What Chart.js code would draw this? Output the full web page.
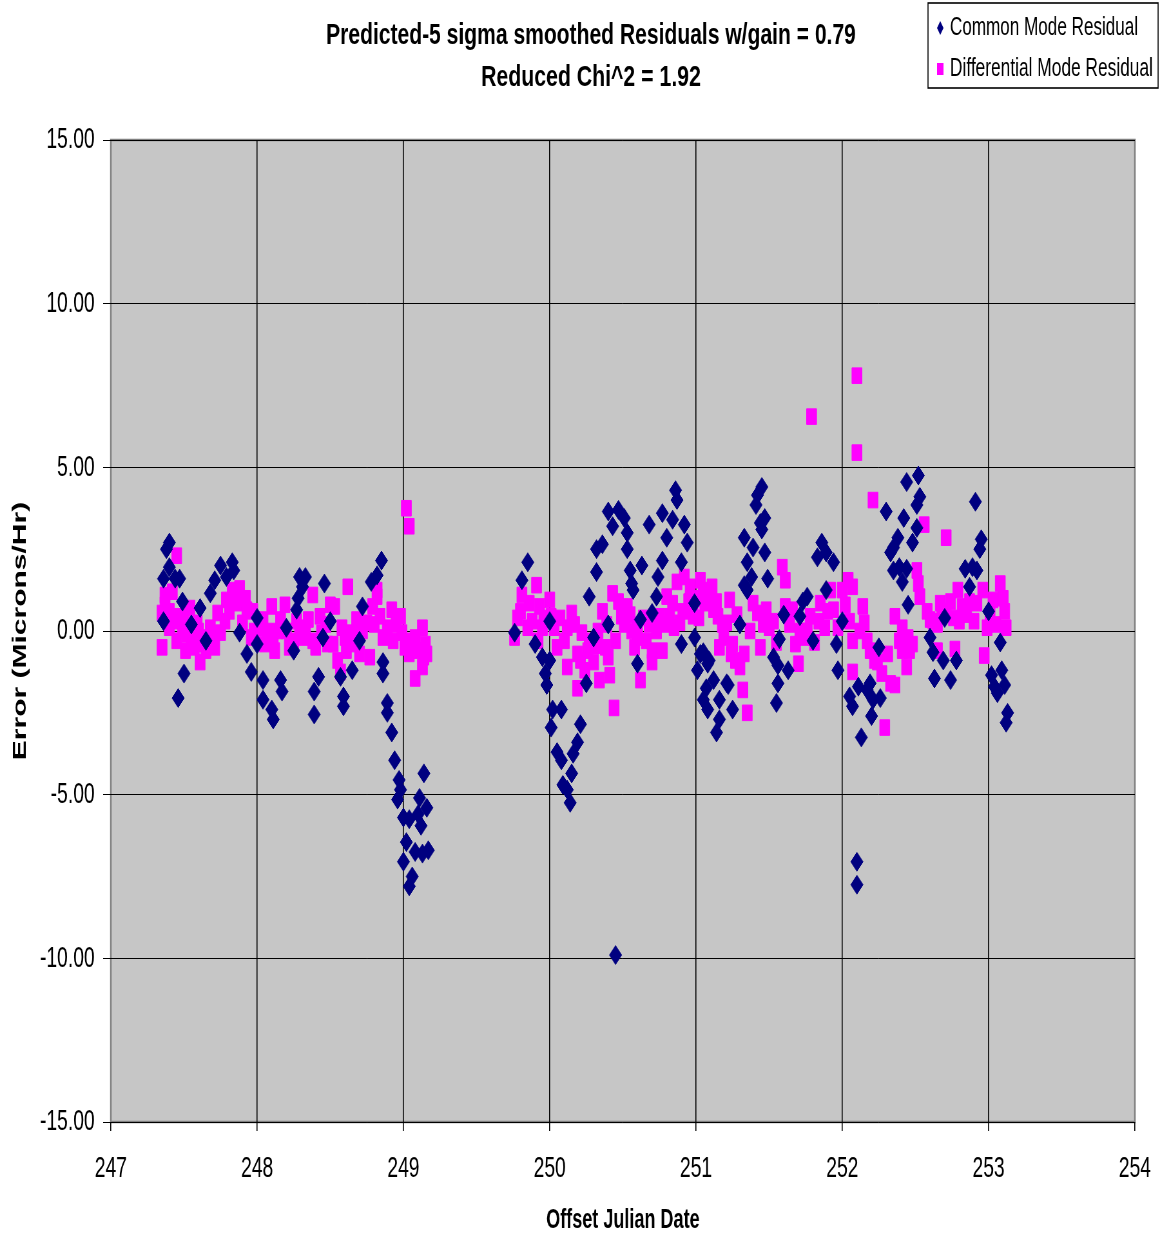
<!DOCTYPE html>
<html>
<head>
<meta charset="utf-8">
<script src="https://cdn.jsdelivr.net/npm/chart.js@4.4.0/dist/chart.umd.min.js"></script>
<style>
  html, body { margin: 0; padding: 0; background: #fff; }
  canvas { display: block; }
</style>
</head>
<body>
<!-- drawn wide and squeezed by css, like the original screenshot -->
<canvas id="residualChart" width="1800" height="1234" style="width:1160px;height:1234px"></canvas>
<script>
// Common mode residual (navy diamonds)
const cmDay = [
  247.40, 247.38, 247.40, 247.36, 247.47, 247.44, 247.49, 247.36, 247.50, 247.46,
  247.61, 247.68, 247.75, 247.83, 247.79, 247.71, 247.88, 247.93, 247.96, 248.04,
  248.04, 248.10, 248.11, 248.16, 248.17, 248.29, 248.33, 248.28, 248.31, 248.27,
  248.46, 248.42, 248.39, 248.39, 248.57, 248.59, 248.59, 248.65, 248.72, 248.78,
  248.82, 248.85, 248.86, 248.86, 248.89, 248.89, 248.92, 248.94, 248.97, 248.96,
  248.98, 249.00, 249.04, 249.10, 249.12, 249.02, 249.00, 249.08, 249.13, 249.17,
  249.06, 249.04, 249.14, 249.11, 249.16, 247.55, 247.65, 248.00, 248.20, 248.50,
  248.70, 247.84, 248.00, 248.25, 248.45, 249.85, 249.81, 249.76, 249.90, 249.95,
  250.00, 249.97, 249.98, 250.02, 250.08, 250.01, 250.21, 250.19, 250.05, 250.08,
  250.16, 250.15, 250.09, 250.12, 250.14, 250.25, 250.27, 250.32, 250.32, 250.36,
  250.40, 250.43, 250.47, 250.51, 250.53, 250.53, 250.55, 250.56, 250.57, 250.63,
  250.62, 250.60, 250.68, 250.74, 250.77, 250.80, 250.77, 250.84, 250.86, 250.87,
  250.92, 250.94, 250.90, 250.73, 250.70, 250.45, 250.99, 250.99, 251.05, 251.01,
  251.08, 251.07, 251.12, 251.05, 251.08, 251.16, 251.22, 251.25, 251.14, 251.16,
  251.33, 250.00, 250.30, 250.90, 250.40, 251.45, 251.42, 251.41, 251.47, 251.44,
  251.45, 251.39, 251.47, 251.35, 251.38, 251.49, 251.33, 251.35, 251.86, 251.83,
  251.89, 251.94, 251.76, 251.73, 251.89, 251.71, 251.57, 251.53, 251.56, 251.63,
  251.56, 251.55, 251.03, 251.09, 251.21, 251.96, 251.97, 252.05, 252.07, 252.13,
  252.17, 252.21, 252.20, 252.26, 252.11, 252.19, 252.10, 252.10, 252.52, 252.44,
  252.53, 252.51, 252.30, 252.42, 252.51, 252.48, 252.38, 252.35, 252.33, 252.35,
  252.39, 252.44, 252.41, 252.45, 252.91, 252.95, 252.94, 252.84, 252.89, 252.92,
  252.87, 252.60, 252.62, 252.69, 252.63, 252.74, 252.78, 253.02, 253.04, 253.09,
  253.11, 253.06, 253.13, 253.12, 253.08, 251.30, 251.60, 252.00, 252.70, 253.00,
  252.25, 251.80
];
const cmErr = [
  2.70, 2.50, 1.95, 1.60, 1.60, 1.60, 0.90, 0.30, -1.30, -2.05,
  0.70, 1.15, 2.00, 2.10, 1.65, 1.55, -0.05, -0.70, -1.25, -1.50,
  -2.10, -2.40, -2.70, -1.50, -1.85, 1.65, 1.65, 1.00, 1.35, 0.65,
  1.45, -1.40, -1.85, -2.55, -1.40, -2.00, -2.30, -1.20, 0.75, 1.50,
  1.70, 2.15, -0.95, -1.30, -2.20, -2.50, -3.10, -3.95, -4.55, -5.15,
  -4.85, -5.70, -5.75, -5.60, -5.95, -6.45, -7.05, -6.75, -6.80, -6.70,
  -7.50, -7.80, -4.35, -5.10, -5.40, 0.20, -0.30, 0.40, 0.10, 0.30,
  -0.30, 1.85, -0.40, -0.60, -0.20, 2.10, 1.55, -0.05, -0.40, -0.80,
  -0.90, -1.30, -1.65, -2.40, -2.40, -2.95, -2.85, -3.40, -3.70, -3.95,
  -3.75, -4.35, -4.70, -4.85, -5.25, -1.60, 1.05, 1.80, 2.50, 2.65,
  3.65, 3.20, 3.70, 3.45, 3.00, 2.50, 1.85, 1.45, 1.25, 2.00,
  0.35, -1.00, 3.25, 1.65, 2.15, 2.85, 3.60, 3.40, 4.30, 4.00,
  3.25, 2.70, 2.10, 1.05, 0.55, -9.90, 0.85, -0.20, -0.65, -1.20,
  -1.00, -1.75, -1.50, -2.10, -2.40, -2.10, -1.65, -2.40, -3.10, -2.70,
  2.85, 0.30, -0.20, -0.40, 0.20, 4.40, 4.15, 3.85, 3.45, 3.30,
  3.10, 2.55, 2.40, 2.10, 1.65, 1.60, 1.40, 1.25, 2.70, 2.25,
  2.40, 2.10, 1.05, 0.90, 1.25, 0.45, -0.25, -0.80, -1.05, -1.20,
  -1.60, -2.20, -0.70, -0.90, -1.60, -0.40, -1.20, -2.00, -2.30, -3.25,
  -1.80, -2.10, -2.60, -2.05, -1.70, -1.60, -7.05, -7.75, 4.75, 4.55,
  4.10, 3.85, 3.65, 3.45, 3.15, 2.70, 2.85, 2.55, 2.40, 1.85,
  1.95, 1.90, 1.50, 0.80, 3.95, 2.80, 2.50, 1.90, 1.95, 1.85,
  1.35, -0.20, -0.65, -0.90, -1.45, -1.50, -0.90, -1.35, -1.70, -1.20,
  -1.65, -1.90, -2.50, -2.80, -0.35, 0.20, 0.50, 0.30, 0.40, 0.60,
  -0.50, -0.30
];

// Differential mode residual (magenta squares)
const dmDay = [
  247.45, 247.42, 247.37, 247.35, 247.38, 247.40, 247.35, 247.47, 247.49, 247.51,
  247.54, 247.55, 247.61, 247.59, 247.63, 247.66, 247.71, 247.75, 247.73, 247.79,
  247.83, 247.88, 247.86, 247.93, 247.90, 247.97, 247.98, 247.96, 248.04, 248.10,
  248.07, 248.11, 248.12, 248.16, 248.19, 248.20, 248.22, 248.29, 248.31, 248.38,
  248.35, 248.38, 248.43, 248.44, 248.50, 248.53, 248.52, 248.55, 248.57, 248.60,
  248.62, 248.61, 248.65, 248.68, 248.70, 248.75, 248.77, 248.79, 248.82, 248.82,
  248.84, 248.89, 248.92, 248.93, 248.98, 248.99, 249.01, 249.04, 249.08, 249.08,
  249.13, 249.13, 249.15, 249.16, 249.14, 249.02, 249.04, 249.76, 249.78, 249.81,
  249.86, 249.85, 249.91, 249.93, 249.92, 249.95, 250.00, 250.01, 250.05, 250.07,
  250.12, 250.12, 250.15, 250.19, 250.19, 250.22, 250.24, 250.27, 250.30, 250.34,
  250.32, 250.36, 250.39, 250.40, 250.43, 250.41, 250.45, 250.47, 250.44, 250.49,
  250.53, 250.56, 250.58, 250.60, 250.62, 250.64, 250.66, 250.70, 250.70, 250.73,
  250.75, 250.77, 250.80, 250.82, 250.84, 250.87, 250.89, 250.92, 250.96, 250.98,
  251.03, 251.05, 251.06, 251.11, 251.12, 251.15, 251.16, 251.21, 251.23, 251.25,
  251.27, 251.30, 251.32, 251.35, 251.28, 251.39, 251.44, 251.42, 251.48, 251.50,
  251.55, 251.59, 251.61, 251.61, 251.66, 251.70, 251.71, 251.74, 251.78, 251.81,
  251.85, 251.88, 251.92, 251.94, 251.97, 252.00, 252.04, 252.07, 252.07, 252.10,
  252.10, 251.79, 252.21, 252.07, 252.14, 252.15, 252.19, 252.24, 252.27, 252.33,
  252.36, 252.29, 252.31, 252.36, 252.41, 252.41, 252.45, 252.44, 252.46, 252.56,
  252.51, 252.52, 252.53, 252.60, 252.67, 252.65, 252.71, 252.71, 252.76, 252.79,
  252.82, 252.87, 252.92, 252.96, 252.99, 253.03, 253.08, 253.11, 253.12, 252.65,
  252.77, 252.97, 247.37, 247.40, 247.43, 247.45, 247.50, 247.52, 247.57, 247.60,
  247.65, 247.68, 247.70, 247.78, 247.81, 247.92, 248.02, 248.05, 248.14, 248.25,
  248.27, 248.33, 248.40, 248.47, 248.48, 248.58, 248.64, 248.72, 248.80, 248.86,
  248.95, 249.06, 249.10, 249.80, 249.88, 249.96, 250.03, 250.10, 250.17, 250.21,
  250.26, 250.33, 250.38, 250.51, 250.55, 250.60, 250.68, 250.79, 250.85, 250.91,
  250.95, 251.00, 251.02, 251.08, 251.14, 251.18, 251.19, 251.24, 251.33, 251.37,
  251.46, 251.53, 251.64, 251.68, 251.76, 251.84, 251.90, 252.02, 252.05, 252.12,
  252.17, 252.22, 252.39, 252.48, 252.58, 252.62, 252.68, 252.74, 252.80, 252.85,
  252.90, 253.01, 253.05, 253.10
];
const dmErr = [
  2.30, 1.20, 1.10, 0.55, 0.35, 0.10, -0.50, 0.45, 0.00, -0.60,
  0.70, -0.20, -0.95, 0.25, -0.40, -0.20, -0.50, -0.05, 0.55, 0.95,
  1.25, 1.30, 0.85, 0.65, 0.25, 0.60, 0.00, -0.20, 0.35, 0.75,
  0.00, -0.20, -0.60, 0.35, 0.80, 0.00, -0.50, 0.10, -0.20, 1.10,
  0.35, -0.30, 0.45, -0.05, 0.80, 0.75, -0.40, -0.90, -1.25, -0.20,
  1.35, -0.60, -0.05, 0.35, -0.70, 0.25, -0.80, 0.75, 1.05, 1.25,
  0.45, 0.10, 0.65, -0.30, 0.45, -0.05, -0.50, -0.70, -1.45, -0.20,
  0.10, -1.10, -0.40, -0.70, -0.80, 3.75, 3.20, -0.20, 0.40, 1.10,
  0.85, 0.10, 1.40, 0.75, -0.30, 0.10, 0.95, 0.45, -0.50, 0.40,
  0.10, -1.10, 0.55, -0.70, -1.75, -0.05, -1.20, -0.30, -0.95, -1.50,
  -0.45, 0.60, 0.20, -0.80, 1.15, -1.35, -0.30, 0.90, -2.35, 0.45,
  0.75, 0.00, -0.50, 0.10, -1.50, 0.40, -0.30, -0.60, -0.95, 0.00,
  0.45, -0.60, 1.05, 0.45, 0.85, 1.50, 0.25, 1.65, 1.35, 0.45,
  1.55, 1.25, 0.85, 1.35, 0.65, 0.45, -0.50, 0.25, 0.95, -0.40,
  -0.90, -1.10, -1.80, -2.50, 0.50, 0.85, -0.50, 0.55, 0.65, 0.10,
  -0.35, 1.95, 1.55, 0.75, 0.65, -1.00, 0.00, -0.20, 0.45, -0.35,
  0.85, 0.10, 1.25, 0.65, 0.10, 1.25, 1.55, 1.35, -0.30, 7.80,
  5.45, 6.55, 4.00, -1.25, 0.75, 0.25, -0.60, -0.95, -1.30, -1.60,
  -1.65, -2.95, -0.70, 0.45, 0.10, -0.60, -0.20, -1.10, -0.60, 3.25,
  1.85, 1.45, 1.05, 0.35, 0.85, 0.20, 2.85, 0.60, 0.40, 1.25,
  0.75, 0.90, 0.85, 1.25, 0.10, 0.95, 1.45, 0.60, 0.10, -0.60,
  -0.55, -0.75, 0.80, 0.60, 0.30, -0.30, 0.30, -0.10, -0.50, 0.00,
  -0.60, 0.10, -0.30, 0.30, 0.60, 1.00, 0.10, -0.40, 0.00, -0.30,
  0.30, 0.00, -0.50, 0.20, -0.40, 0.10, -0.40, 0.00, 0.20, -0.20,
  0.20, -0.30, -0.60, 0.60, 0.30, 0.40, 0.10, -0.30, 0.20, -0.90,
  -0.60, 0.00, -0.50, 0.20, 0.50, -0.20, 0.20, 0.20, 0.10, 0.60,
  0.90, 1.00, 0.40, 1.00, 0.90, 0.20, -0.20, -0.70, -0.70, 0.00,
  0.20, 0.30, 0.20, -0.40, 0.00, 0.30, 0.60, 0.80, 0.30, 0.00,
  -0.30, -0.90, -0.30, -0.40, 0.60, 0.30, 0.50, 0.90, 0.30, 0.50,
  0.30, 0.50, 0.20, 1.00
];

const xTicks = [247, 248, 249, 250, 251, 252, 253, 254];
const yTicks = [-15, -10, -5, 0, 5, 10, 15];
const titleLines = ["Predicted-5 sigma smoothed Residuals w/gain = 0.79", "Reduced Chi^2 = 1.92"];
const seriesNames = ["Common Mode Residual", "Differential Mode Residual"];

const NAVY = '#000080';
const PINK = '#FF00FF';
const FONT = '"Liberation Sans", Arial, sans-serif';

// squeeze text into the width it has in the picture
function fitText(ctx, text, x, y, width, font, align) {
  ctx.save();
  ctx.font = font;
  const w = ctx.measureText(text).width;
  ctx.translate(x, y);
  ctx.scale(width / w, 1);
  ctx.textAlign = align;
  ctx.textBaseline = 'middle';
  ctx.fillStyle = '#000';
  ctx.fillText(text, 0, 0);
  ctx.restore();
}

const frame = {
  id: 'frame',
  beforeDraw(chart) {
    const { ctx, chartArea: a } = chart;
    ctx.save();
    ctx.fillStyle = '#fff';
    ctx.fillRect(0, 0, chart.width, chart.height);
    ctx.fillStyle = '#C6C6C6';
    ctx.fillRect(a.left, a.top, a.right - a.left, a.bottom - a.top);
    ctx.strokeStyle = '#808080';
    ctx.lineWidth = 2.5;
    ctx.strokeRect(a.left, a.top, a.right - a.left, a.bottom - a.top);
    ctx.restore();
  },
  afterDraw(chart) {
    const ctx = chart.ctx;
    // title
    fitText(ctx, titleLines[0], 917, 36, 822, 'bold 30px ' + FONT, 'center');
    fitText(ctx, titleLines[1], 917, 78, 341, 'bold 30px ' + FONT, 'center');

    // legend box
    ctx.save();
    ctx.fillStyle = '#fff';
    ctx.fillRect(1440, 3, 357, 85);
    ctx.strokeStyle = '#000';
    ctx.lineWidth = 1.6;
    ctx.strokeRect(1440, 3, 357, 85);
    ctx.fillStyle = NAVY;
    ctx.beginPath();
    ctx.moveTo(1459, 21); ctx.lineTo(1464, 28); ctx.lineTo(1459, 35); ctx.lineTo(1454, 28);
    ctx.closePath();
    ctx.fill();
    ctx.fillStyle = PINK;
    ctx.fillRect(1454, 63, 10, 12);
    ctx.restore();
    fitText(ctx, seriesNames[0], 1474, 28, 292, '26px ' + FONT, 'left');
    fitText(ctx, seriesNames[1], 1474, 69, 315, '26px ' + FONT, 'left');
  }
};

const toPoints = (xs, ys) => xs.map((x, i) => ({ x: x, y: ys[i] }));

var ctx = document.getElementById('residualChart').getContext('2d');
var residualChart = new Chart(ctx, {
  type: 'scatter',
  data: {
    datasets: [
      {
        label: seriesNames[0],
        data: toPoints(cmDay, cmErr),
        pointStyle: 'rectRot',
        pointRadius: 9.5,
        borderWidth: 1,
        backgroundColor: NAVY,
        borderColor: NAVY
      },
      {
        label: seriesNames[1],
        data: toPoints(dmDay, dmErr),
        pointStyle: 'rect',
        pointRadius: 11,
        borderWidth: 1,
        backgroundColor: PINK,
        borderColor: PINK
      }
    ]
  },
  options: {
    responsive: false,
    animation: false,
    devicePixelRatio: 1,
    layout: { padding: { top: 140, right: 39, left: 0, bottom: 0 } },
    plugins: {
      legend: { display: false },
      title: { display: false },
      tooltip: { enabled: false }
    },
    scales: {
      x: {
        type: 'linear',
        min: 247,
        max: 254,
        afterBuildTicks: (s) => { s.ticks = xTicks.map((v) => ({ value: v })); },
        afterFit: (s) => {
          s.height = 112;
          s.paddingLeft = 0; s.paddingRight = 0;
        },
        grid: {
          color: (c) => (c.tick && (c.tick.value === 247 || c.tick.value === 254)) ? 'rgba(0,0,0,0)' : '#000',
          lineWidth: 1.6,
          tickColor: '#000',
          tickLength: 9
        },
        border: { display: false },
        ticks: {
          color: '#000',
          font: { family: FONT, size: 30 },
          padding: 20,
          autoSkip: false,
          maxRotation: 0,
          callback: (v) => String(v)
        },
        title: {
          display: true,
          text: 'Offset Julian Date',
          color: '#000',
          font: { family: FONT, size: 28, weight: 'bold', lineHeight: 1 },
          padding: { top: 0, bottom: 0 }
        }
      },
      y: {
        min: -15,
        max: 15,
        afterBuildTicks: (s) => { s.ticks = yTicks.map((v) => ({ value: v })); },
        afterFit: (s) => {
          s.width = 172;
          s.paddingTop = 0; s.paddingBottom = 0;
        },
        grid: {
          color: '#000',
          lineWidth: 1,
          tickColor: '#000',
          tickLength: 12
        },
        border: { display: false },
        ticks: {
          color: '#000',
          font: { family: FONT, size: 30 },
          padding: 13,
          callback: (v) => Number(v).toFixed(2)
        },
        title: {
          display: true,
          text: 'Error (Microns/Hr)',
          color: '#000',
          font: { family: FONT, size: 30, weight: 'bold', lineHeight: 1.2 },
          padding: { top: 14, bottom: 0 }
        }
      }
    }
  },
  plugins: [frame]
});
</script>
</body>
</html>
